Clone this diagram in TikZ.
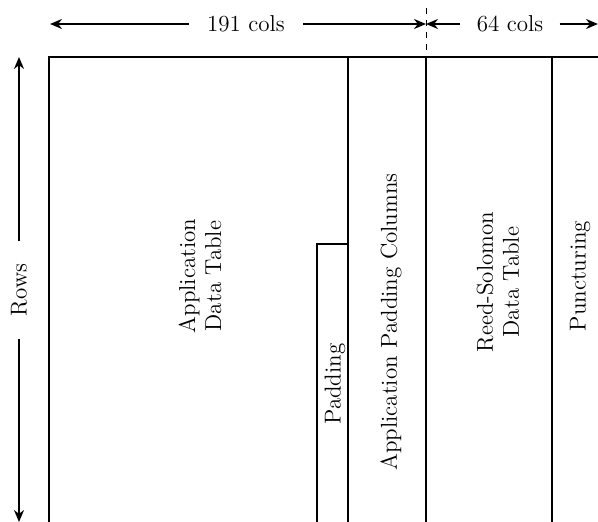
\documentclass[tikz,border=0pt]{standalone}
\usepackage{tikz}
\usetikzlibrary{arrows.meta}

\begin{document}
\begin{tikzpicture}[x=0.5pt,y=-0.5pt,
  frame/.style={line width=1.35pt},
  padbox/.style={line width=1pt},
  dim/.style={line width=0.9pt,-{Stealth[length=6pt,width=5pt]}},
  lbl/.style={font=\fontsize{11.5}{13}\selectfont,inner sep=0pt},
  vlbl/.style={lbl,rotate=90,align=center}]
\path[use as bounding box] (0,0) rectangle (598,522);
% table outline
\draw[frame] (49,522) -- (49,57) -- (598,57);
\draw[frame] (348,57) -- (348,522);
\draw[frame] (426,57) -- (426,522);
\draw[frame] (552,57) -- (552,522);
\draw[padbox] (317,522) -- (317,244) -- (348,244);
% column counts
\draw[dashed,line width=0.5pt] (426,8) -- (426,57);
\coordinate (colL) at (50,24);
\coordinate (colM) at (426,24);
\coordinate (colR) at (598,24);
\node[lbl,inner xsep=9pt] (cols191) at (246,24) {191 cols};
\node[lbl,inner xsep=8pt] (cols64) at (510,24) {64 cols};
\draw[dim] (cols191) -- (colL);
\draw[dim] (cols191) -- (colM);
\draw[dim] (cols64) -- (colM);
\draw[dim] (cols64) -- (colR);
% rows
\coordinate (rowT) at (19,57);
\coordinate (rowB) at (19,522);
\node[vlbl,inner xsep=11pt] (rows) at (19,290) {Rows};
\draw[dim] (rows) -- (rowT);
\draw[dim] (rows) -- (rowB);
% region labels
\node[vlbl] (appdata) at (200,276) {Application\\Data Table};
\node[vlbl] (pad) at (335,384) {Padding};
\node[vlbl] (apppad) at (391,322) {Application Padding Columns};
\node[vlbl] (rsdata) at (498,282) {Reed-Solomon\\Data Table};
\node[vlbl] (punct) at (580,276) {Puncturing};
\end{tikzpicture}
\end{document}
